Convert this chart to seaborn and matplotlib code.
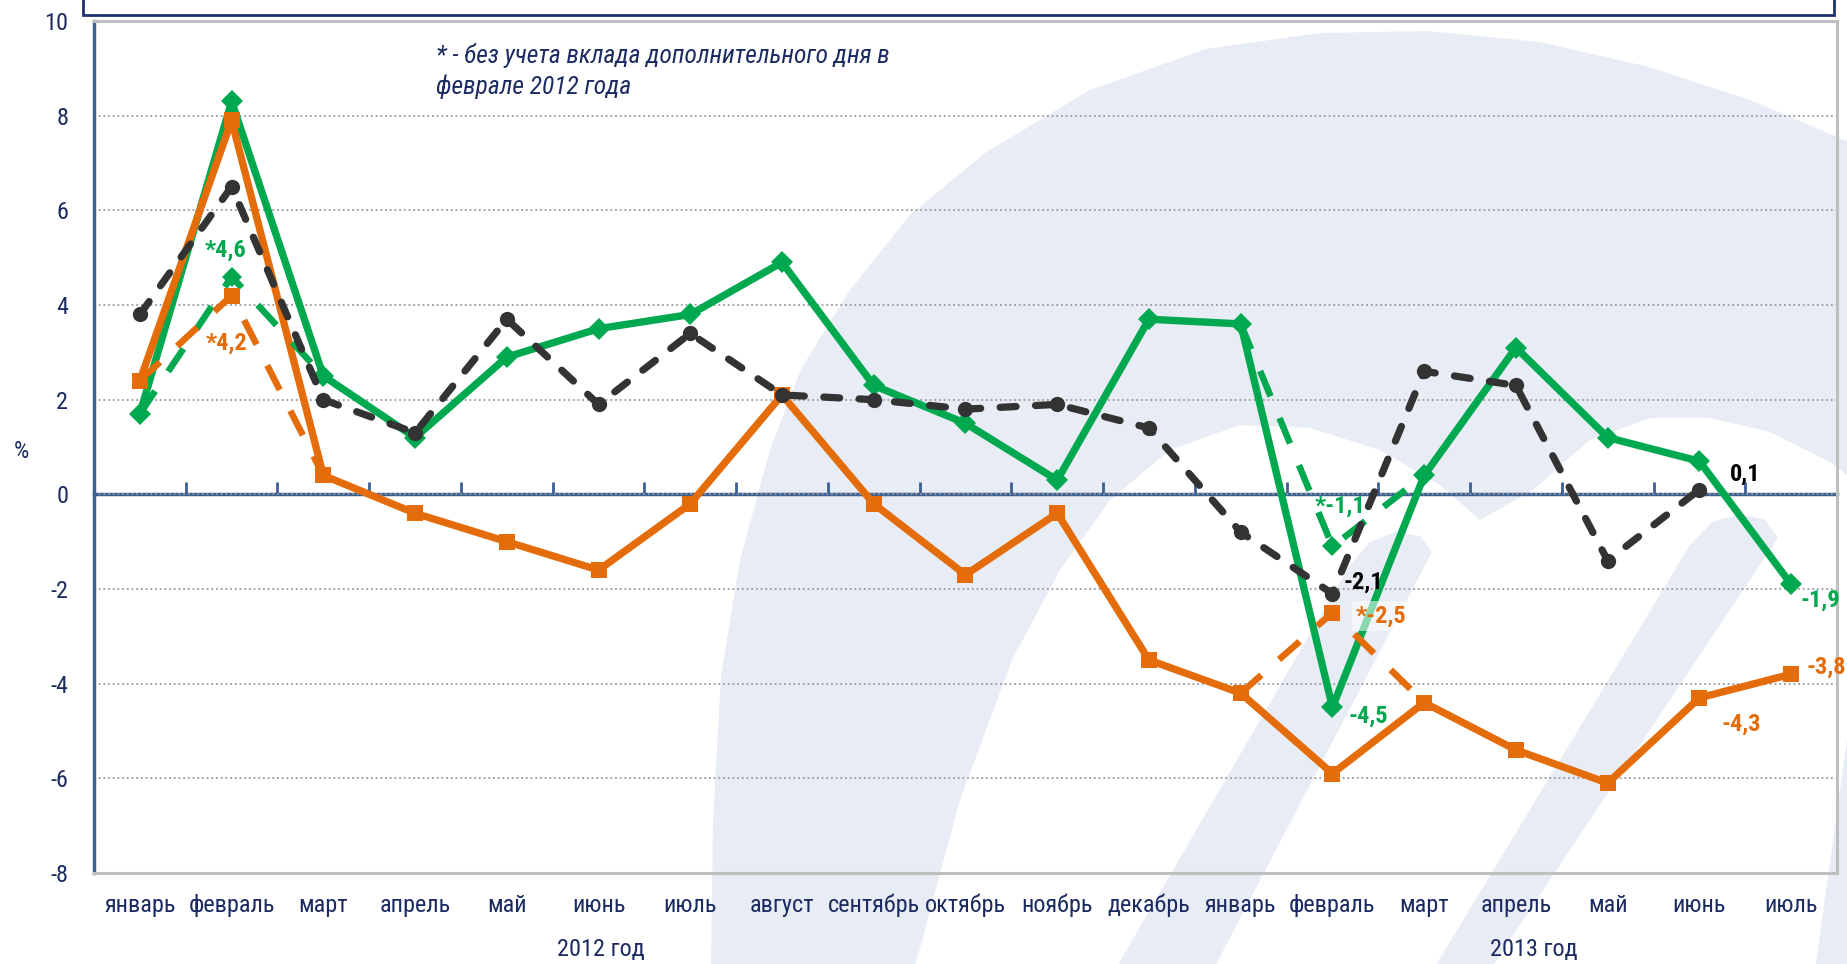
import numpy as np
import pandas as pd
import matplotlib
matplotlib.use("Agg")
import matplotlib.pyplot as plt
import seaborn as sns
from matplotlib import font_manager as fm
from matplotlib.font_manager import FontProperties
from matplotlib.textpath import TextPath
from matplotlib.patches import Polygon, Rectangle
from matplotlib.transforms import Affine2D, blended_transform_factory

# ---------------- data ----------------
months = ["январь", "февраль", "март", "апрель", "май", "июнь", "июль", "август",
          "сентябрь", "октябрь", "ноябрь", "декабрь",
          "январь", "февраль", "март", "апрель", "май", "июнь", "июль"]
year_labels = ["2012 год", "2013 год"]
green_main = [1.7, 8.3, 2.5, 1.2, 2.9, 3.5, 3.8, 4.9, 2.3, 1.5, 0.3, 3.7,
              3.6, -4.5, 0.4, 3.1, 1.2, 0.7, -1.9]
orange_main = [2.4, 7.9, 0.4, -0.4, -1.0, -1.6, -0.2, 2.1, -0.2, -1.7, -0.4, -3.5,
               -4.2, -5.9, -4.4, -5.4, -6.1, -4.3, -3.8]
black_main = [3.8, 6.5, 2.0, 1.3, 3.7, 1.9, 3.4, 2.1, 2.0, 1.8, 1.9, 1.4,
              -0.8, -2.1, 2.6, 2.3, -1.4, 0.1]
green_adj_2012 = [1.7, 4.6, 2.5]      # январь-март 2012, без учета доп. дня
green_adj_2013 = [3.6, -1.1, 0.4]     # январь-март 2013
orange_adj_2012 = [2.4, 4.2, 0.4]
orange_adj_2013 = [-4.2, -2.5, -4.4]
note_lines = ["* - без учета вклада дополнительного дня в", "феврале 2012 года"]

GREEN = "#00A84F"
ORANGE = "#E46C0A"
BLACK = "#333333"
AXBLUE = "#3C5F94"
NAVY = "#1B2A60"
GRID = "#9A9A9A"
WM = "#E8ECF4"

sns.set_theme(style="white")

# ---- choose a narrow font if one is installed ----
def pick_font():
    names = {f.name for f in fm.fontManager.ttflist}
    for p in ["Liberation Sans Narrow", "Arial Narrow", "Roboto Condensed",
              "Open Sans Condensed", "Noto Sans Condensed", "DejaVu Sans Condensed"]:
        if p in names:
            return p, "normal"
    for fam in ["Noto Sans", "Open Sans", "Roboto", "DejaVu Sans"]:
        for f in fm.fontManager.ttflist:
            if f.name == fam and str(f.stretch) in ("condensed", "semi-condensed",
                                                     "extra-condensed"):
                return fam, str(f.stretch)
    return "Liberation Sans", "normal"

FAM, STRETCH = pick_font()
FONT = [FAM, "Liberation Sans", "DejaVu Sans"]
plt.rcParams["font.family"] = FONT
plt.rcParams["font.stretch"] = STRETCH

def fit_size(text, target_px, **kw):
    fp = FontProperties(family=FONT, stretch=STRETCH, **kw)
    w = TextPath((0, 0), text, size=100, prop=fp).get_extents().width
    return 100 * (target_px * 0.72) / w

FS = fit_size("январь", 70)
FS_B = fit_size("-4,5", 37, weight="bold")
FS_N = fit_size(note_lines[0], 452, style="italic")

W, H = 1847, 964
fig = plt.figure(figsize=(W / 100, H / 100), dpi=100)
fig.patch.set_facecolor("white")

# ---------------- background watermark (decoration, pixel coords) ----------------
wm_t = Affine2D().scale(1.0 / W, -1.0 / H).translate(0, 1) + fig.transFigure
dome = [(711, 970), (713, 820), (721, 676), (740, 560), (770, 450), (801, 369), (850, 290),
        (910, 215), (985, 153), (1090, 90), (1206, 49), (1320, 33), (1428, 31), (1540, 42),
        (1649, 67), (1750, 100), (1847, 141), (1847, 970)]
hole = [(914, 970), (960, 800), (1012, 660), (1060, 570), (1110, 500), (1170, 450),
        (1240, 425), (1310, 428), (1380, 450), (1440, 485), (1480, 520), (1533, 490),
        (1590, 440), (1650, 418), (1710, 418), (1770, 432), (1830, 462), (1847, 475),
        (1847, 740), (1815, 970)]
strokeA = [(1115, 970), (1350, 565), (1370, 542), (1395, 532), (1420, 536), (1432, 552),
           (1213, 970)]
strokeB = [(1433, 970), (1690, 545), (1712, 522), (1740, 514), (1765, 520), (1778, 538),
           (1490, 970)]
for pts, col in [(dome, WM), (hole, "white"), (strokeA, WM), (strokeB, WM)]:
    fig.patches.append(Polygon(pts, closed=True, transform=wm_t, facecolor=col,
                               edgecolor="none", zorder=0))

# cut legend frame at top
fig.patches.append(Rectangle((83 / W, 1 - 15 / H), (1834 - 83) / W, 0.1,
                             transform=fig.transFigure, facecolor="white",
                             edgecolor="#1F3070", lw=2.0, zorder=1))

# ---------------- axes ----------------
ax = fig.add_axes([94 / W, 1 - 873 / H, (1837 - 94) / W, (873 - 21) / H])
ax.set_zorder(2)
ax.patch.set_alpha(0)
ymin, ymax = -8, 10
n = len(months)
pos = np.arange(n)

def seg(x, y, color, ls, lw, marker, ms, z, cap="butt"):
    df = pd.DataFrame({"x": x, "y": y})
    sns.lineplot(data=df, x="x", y="y", ax=ax, color=color, linewidth=lw,
                 linestyle=ls, marker=marker, markersize=ms, markeredgecolor=color,
                 markeredgewidth=0, zorder=z, legend=False, dash_capstyle=cap)

seg(pos, green_main, GREEN, "-", 5.3, "D", 11.5, 3)
seg(pos, orange_main, ORANGE, "-", 5.3, "s", 12, 4)
adj_dash = (0, (4.2, 3.6))
seg(pos[0:3], green_adj_2012, GREEN, adj_dash, 4.7, "D", 10.5, 4.5)
seg(pos[12:15], green_adj_2013, GREEN, adj_dash, 4.7, "D", 10.5, 4.5)
seg(pos[0:3], orange_adj_2012, ORANGE, adj_dash, 4.7, "s", 11, 4.6)
seg(pos[12:15], orange_adj_2013, ORANGE, adj_dash, 4.7, "s", 11, 4.6)
seg(pos[:len(black_main)], black_main, BLACK, (0, (2.2, 2.7)), 5.2, "o", 11, 5, cap="round")

ax.set_xlim(-0.5, n - 0.5)
ax.set_ylim(ymin, ymax)
ax.set_yticks(np.arange(ymin, ymax + 1, 2))
ax.set_yticklabels([str(v) for v in range(ymin, ymax + 1, 2)])
ax.set_xticks(pos)
ax.set_xticklabels(months)
ax.set_xlabel("")
ax.set_ylabel("")

ax.tick_params(axis="x", length=0, pad=15, labelsize=FS, labelcolor=NAVY)
ax.tick_params(axis="y", direction="inout", length=10, width=2, color=AXBLUE,
               pad=13.5, labelsize=FS, labelcolor=NAVY)

ax.yaxis.grid(True, linestyle=(0, (1, 1.6)), color=GRID, linewidth=1.3, zorder=1)
ax.xaxis.grid(False)
ax.set_axisbelow(True)

for side in ["top", "right", "bottom"]:
    ax.spines[side].set_visible(True)
    ax.spines[side].set_color("#BFBFBF")
    ax.spines[side].set_linewidth(2.2)
ax.spines["left"].set_color(AXBLUE)
ax.spines["left"].set_linewidth(2.5)

# category axis crossing at zero
sec = ax.secondary_xaxis((0 - ymin) / (ymax - ymin))
sec.set_xticks(pos[:-1] + 0.5)
sec.tick_params(axis="x", direction="in", length=9, width=2, color=AXBLUE,
                labelbottom=False, labeltop=False)
for sp in sec.spines.values():
    sp.set_color(AXBLUE)
    sp.set_linewidth(2.5)

# year labels
bt = blended_transform_factory(ax.transData, fig.transFigure)
ax.text(5.03, 1 - 950 / H, year_labels[0], transform=bt, ha="center", va="center",
        fontsize=FS, color=NAVY)
ax.text(15.2, 1 - 950 / H, year_labels[1], transform=bt, ha="center", va="center",
        fontsize=FS, color=NAVY)

fig.text(21 / W, 1 - 451 / H, "%", ha="center", va="center", fontsize=FS, color=NAVY)

# note
fig.text(436 / W, 1 - 55 / H, note_lines[0], ha="left", va="center", fontsize=FS_N,
         style="italic", color=NAVY, zorder=3)
fig.text(436 / W, 1 - 87 / H, note_lines[1], ha="left", va="center", fontsize=FS_N,
         style="italic", color=NAVY, zorder=3)

# data labels
def lab(i, v, text, color, dx, dy, ha="left", box=False):
    kw = dict(textcoords="offset points", xytext=(dx, dy), ha=ha, va="center",
              fontsize=FS_B, fontweight="bold", color=color, zorder=8,
              annotation_clip=False)
    if box:
        kw["bbox"] = dict(boxstyle="square,pad=0.15", facecolor="white",
                          edgecolor="none", alpha=0.55)
    ax.annotate(text, xy=(i, v), **kw)

lab(1, green_adj_2012[1], "*4,6", GREEN, -4.3, 19.2, ha="center")
lab(1, orange_adj_2012[1], "*4,2", ORANGE, -3.5, -34.3, ha="center")
lab(13, green_adj_2013[1], "*-1,1", GREEN, 5.4, 29.2, ha="center")
lab(13, black_main[13], "-2,1", "black", 7.6, 8.5)
lab(13, orange_adj_2013[1], "*-2,5", ORANGE, 16.9, -2.4, box=True)
lab(13, green_main[13], "-4,5", GREEN, 11.2, -6.2)
lab(17, black_main[17], "0,1", "black", 22, 11.3)
lab(18, green_main[18], "-1,9", GREEN, 7, -11.3)
lab(18, orange_main[18], "-3,8", ORANGE, 11.4, 5.2)
lab(17, orange_main[17], "-4,3", ORANGE, 16.2, -18.8)

fig.savefig("out.png", dpi=100, facecolor="white")
